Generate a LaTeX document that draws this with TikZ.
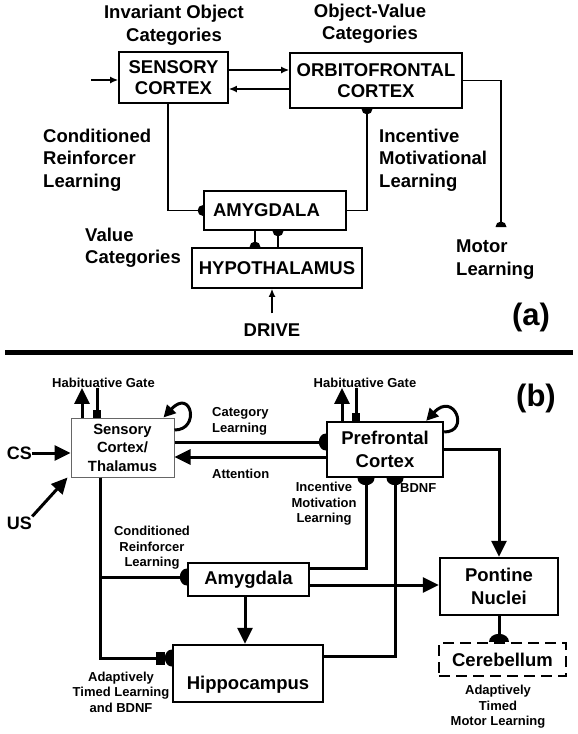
\documentclass[tikz,border=0pt]{standalone}
\usepackage{fontspec}
\setmainfont{Liberation Sans}
\usetikzlibrary{arrows.meta}

% half disc end: flat side on the target, round side towards the line
\pgfdeclarearrow{
  name = Half Disc,
  parameters = {\the\pgfarrowlength,\the\pgfarrowwidth},
  setup code = {
    \pgfarrowssettipend{0pt}
    \pgfarrowssetlineend{-.5\pgfarrowlength}
    \pgfarrowssetbackend{-\pgfarrowlength}
    \pgfarrowssetvisualbackend{-\pgfarrowlength}
    \pgfarrowshullpoint{0pt}{.5\pgfarrowwidth}
    \pgfarrowshullpoint{0pt}{-.5\pgfarrowwidth}
    \pgfarrowshullpoint{-\pgfarrowlength}{0pt}
    \pgfarrowssavethe\pgfarrowlength
    \pgfarrowssavethe\pgfarrowwidth
  },
  drawing code = {
    \pgfpathmoveto{\pgfqpoint{0pt}{.5\pgfarrowwidth}}
    \pgfpatharc{90}{270}{\pgfarrowlength and .5\pgfarrowwidth}
    \pgfpathclose
    \pgfusepathqfill
  },
  defaults = {length = 4pt, width = 8pt}
}

\newcommand{\bfsz}[2]{\fontsize{#1}{#2}\selectfont\bfseries}

\begin{document}
\begin{tikzpicture}[x=1pt, y=-1pt,
    boxa/.style={draw, line width=1.8pt, inner sep=0pt, align=center, font=\bfsz{18.5}{21.5}},
    labela/.style={inner sep=0pt, font=\bfsz{18.5}{22.5}},
    wirea/.style={line width=1.3pt},
    arra/.style={wirea, -{Latex[length=8pt,width=7pt]}},
    syna/.style={wirea, -{Half Disc[length=5.5pt,width=11pt]}},
    boxb/.style={draw, line width=2.4pt, inner sep=0pt, align=center, font=\bfsz{18.5}{22.5}},
    labelb/.style={inner sep=0pt, align=center, font=\bfsz{13}{15.5}},
    wireb/.style={line width=3pt},
    arrb/.style={wireb, -{Triangle[length=16pt,width=15pt]}},
    synb/.style={wireb, -{Half Disc[length=7pt,width=17pt]}},
    gateb/.style={wireb, -{Square[length=8pt,width=8pt]}},
    panel/.style={inner sep=0pt, font=\bfsz{31}{34}}]
  \useasboundingbox (0,0) rectangle (578,734);

  % (a)
  \node[boxa, minimum width=109pt, minimum height=51pt] (sens) at (173.5,77.5) {SENSORY\\CORTEX};
  \node[boxa, minimum width=172pt, minimum height=55pt] (orb) at (376,80.5) {ORBITOFRONTAL\\CORTEX};
  \node[boxa, minimum width=142pt, minimum height=39pt, inner xsep=9pt, text width=124pt, align=left] (amyg) at (275,210.5) {AMYGDALA};
  \node[boxa, minimum width=170pt, minimum height=40pt] (hypo) at (277,268) {HYPOTHALAMUS};

  \node[labela, align=center] (ioc) at (174,25.5) {Invariant Object\\Categories};
  \node[labela, align=center] (ovc) at (370,24) {Object-Value\\Categories};
  \node[labela, align=left, anchor=west] (crl) at (43,160) {Conditioned\\Reinforcer\\Learning};
  \node[labela, align=left, anchor=west] (iml) at (379,160) {Incentive\\Motivational\\Learning};
  \node[labela, align=left, anchor=west] (vc) at (85,248) {Value\\Categories};
  \node[labela, align=left, anchor=west] (ml) at (456,259.5) {Motor\\Learning};
  \node[labela] (drive) at (272,330) {DRIVE};
  \node[panel] (pa) at (531,317) {(a)};
  \coordinate (ina) at (91,80);
  \coordinate (motor) at (501,227);

  \draw[arra] (ina) -- (ina -| sens.west);
  \draw[arra] ([yshift=7.5pt]sens.east) -- ([yshift=7.5pt]sens.east -| orb.west);
  \draw[arra] ([yshift=-11.5pt]sens.east -| orb.west) -- ([yshift=-11.5pt]sens.east);
  \draw[syna] ([xshift=-5.5pt]sens.south) |- (amyg.west);
  \draw[syna] (amyg.east) -| ([xshift=-9pt]orb.south);
  \draw[syna] (orb.east) -| (motor);
  \draw[syna] ([xshift=-20pt]amyg.south) -- ([xshift=-20pt]amyg.south |- hypo.north);
  \draw[syna] ([xshift=3pt]amyg.south |- hypo.north) -- ([xshift=3pt]amyg.south);
  \draw[arra] ([yshift=10pt]drive.north) -- (drive |- hypo.south);

  \draw[line width=5pt] (5,352) -- (573,352);

  % (b)
  \node[draw=black!60, line width=1pt, inner sep=0pt, align=center, font=\bfsz{14.8}{18.5},
    minimum width=103pt, minimum height=59pt] (sct) at (122.5,447.5) {Sensory\\Cortex/\\Thalamus};
  \node[boxb, minimum width=116pt, minimum height=55pt] (pfc) at (385,449.5) {Prefrontal\\Cortex};
  \node[boxb, minimum width=121pt, minimum height=33pt] (amy) at (248.5,579.5) {Amygdala};
  \node[boxb, minimum width=150pt, minimum height=57pt, text height=36pt, text depth=4pt] (hip) at (248,673.5) {Hippocampus};
  \node[boxb, minimum width=118pt, minimum height=57pt] (pon) at (499,586.5) {Pontine\\Nuclei};
  \node[boxb, dash pattern=on 11pt off 6pt, minimum width=127pt, minimum height=33pt] (cer) at (502.5,659.5) {Cerebellum};

  \node[labelb] (hg1) at (103.5,383) {Habituative Gate};
  \node[labelb] (hg2) at (365,383) {Habituative Gate};
  \node[labelb, align=left, anchor=west] (catl) at (212,421.5) {Category\\Learning};
  \node[labelb, anchor=west] (att) at (212,474) {Attention};
  \node[labelb] (iml2) at (324,504) {Incentive\\Motivation\\Learning};
  \node[labelb, anchor=west] (bdnf) at (400,488) {BDNF};
  \node[labelb] (crl2) at (152,548) {Conditioned\\Reinforcer\\Learning};
  \node[labelb] (atl) at (121,692) {Adaptively\\Timed Learning\\and BDNF};
  \node[labelb] (atml) at (498,707) {Adaptively\\Timed\\Motor Learning};
  \node[inner sep=0pt, font=\bfsz{18}{20}] (cs) at (19.5,453) {CS};
  \node[inner sep=0pt, font=\bfsz{18}{20}] (us) at (19.5,523) {US};
  \node[panel] (pb) at (536,398) {(b)};

  \draw[arrb] ([xshift=-40.5pt]sct.north) -- ([xshift=-40.5pt]sct.north |- hg1.south);
  \draw[gateb] ([xshift=-25.5pt]sct.north |- hg1.south) -- ([xshift=-25.5pt]sct.north);
  \draw[arrb] ([xshift=-43pt]pfc.north) -- ([xshift=-43pt]pfc.north |- hg2.south);
  \draw[gateb] ([xshift=-29pt]pfc.north |- hg2.south) -- ([xshift=-29pt]pfc.north);
  \draw[wireb, -{Triangle[length=12pt,width=12pt]}] ([yshift=17.5pt]sct.east) .. controls +(26,0) and +(28,-30) .. ([xshift=-11pt]sct.north east);
  \draw[wireb, -{Triangle[length=12pt,width=12pt]}] ([yshift=17.5pt]pfc.east) .. controls +(26,0) and +(28,-30) .. ([xshift=-18pt]pfc.north east);

  \draw[arrb] (cs) -- (cs -| sct.west);
  \draw[arrb] (us.north east) -- ([xshift=-3pt]sct.south west);
  \draw[synb] ([yshift=5.5pt]sct.east) -- ([yshift=5.5pt]sct.east -| pfc.west);
  \draw[arrb] ([yshift=-9.5pt]sct.east -| pfc.west) -- ([yshift=-9.5pt]sct.east);
  \draw[synb] ([xshift=-22.5pt]sct.south) |- ([yshift=2.5pt]amy.west);
  \draw[wireb, -{Square[length=9pt,width=13pt,sep=0pt]Half Disc[length=7pt,width=17pt]}] ([xshift=-22.5pt]sct.south) |- ([yshift=15.5pt]hip.west);
  \draw[arrb] ([xshift=-3.5pt]amy.south) -- ([xshift=-3.5pt]amy.south |- hip.north);
  \draw[synb] ([yshift=11.5pt]amy.east) -| ([xshift=-19pt]pfc.south);
  \draw[synb] ([yshift=17.5pt]hip.east) -| ([xshift=10pt]pfc.south);
  \draw[arrb] ([yshift=-5.5pt]amy.east) -- ([yshift=-5.5pt]amy.east -| pon.west);
  \draw[arrb] (pfc.east) -| (pon.north);
  \draw[wireb, -{Half Disc[length=8pt,width=20pt]}] (pon.south) -- (pon.south |- cer.north);
\end{tikzpicture}
\end{document}
